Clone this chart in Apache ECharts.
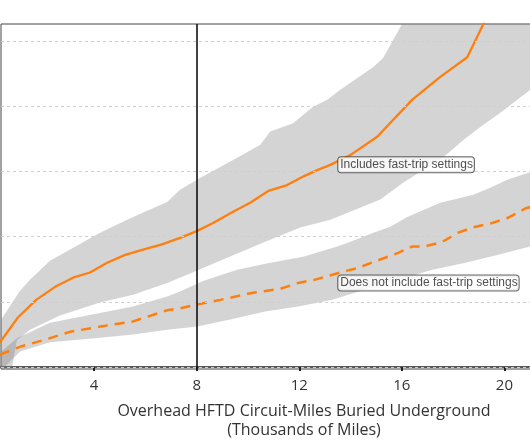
<!DOCTYPE html>
<html>
<head>
<meta charset="utf-8">
<script src="https://cdn.jsdelivr.net/npm/echarts@6/dist/echarts.min.js"></script>
<style>
html,body{margin:0;padding:0;background:#fff;}
#chart{width:530px;height:442px;}
</style>
</head>
<body>
<div id="chart"></div>
<script>
// ---- data ----
const xTicks = [4, 8, 12, 16, 20];
const gridValues = [0, 1, 2, 3, 4, 5];
const refLineX = [8];

// Includes fast-trip settings (solid line)
const includesX = [0.33,1.03,1.74,2.48,3.18,3.84,4.51,5.21,5.91,6.65,7.35,7.98,8.64,9.42,10.09,10.79,11.53,12.15,12.70,13.21,13.99,15.04,16.41,17.50,18.55,19.18,19.65];
const includesY = [0.38,0.76,1.03,1.23,1.37,1.45,1.60,1.72,1.80,1.88,1.98,2.08,2.21,2.38,2.52,2.70,2.79,2.92,3.02,3.10,3.25,3.53,4.10,4.45,4.75,5.26,5.78];
const includesUpperX = [0.33,1.11,1.50,2.28,4.23,5.52,6.85,7.35,8.13,9.58,10.48,10.87,11.76,12.54,13.09,13.60,14.89,15.27,15.94,16.72,24];
const includesUpperY = [0.70,1.17,1.34,1.63,2.06,2.30,2.53,2.72,2.90,3.21,3.41,3.61,3.74,3.99,4.10,4.25,4.60,4.74,5.21,5.93,9.0];
const includesLowerX = [0.33,0.80,0.99,1.50,2.67,4.23,5.52,6.85,8.02,9.58,10.67,12.04,13.21,14.49,15.16,16.06,16.84,17.50,18.40,19.06,19.84,21.01,22.18,24];
const includesLowerY = [-0.50,-0.01,0.41,0.57,0.79,0.99,1.11,1.29,1.48,1.74,1.92,2.14,2.26,2.46,2.57,2.83,3.02,3.18,3.48,3.68,3.90,4.25,4.63,5.2];

// Does not include fast-trip settings (dashed line)
const excludesX = [0.33,1.11,2.09,3.06,4.23,5.52,6.85,7.35,8.02,8.92,10.20,11.26,11.96,12.62,13.68,14.30,14.96,15.86,16.41,16.91,17.58,18.20,18.75,19.53,20.15,20.81,21.40];
const excludesY = [0.19,0.31,0.42,0.54,0.62,0.70,0.87,0.90,0.96,1.03,1.14,1.20,1.29,1.34,1.46,1.52,1.62,1.75,1.85,1.85,1.92,2.06,2.14,2.21,2.29,2.43,2.50];
const excludesUpperX = [0.33,0.99,2.28,4.23,5.52,6.85,7.35,8.25,9.58,10.87,12.15,13.48,13.99,14.89,15.55,16.21,17.50,18.79,19.45,20.11,21.01,22.18,24];
const excludesUpperY = [0.22,0.44,0.68,0.83,0.93,1.08,1.16,1.32,1.49,1.60,1.69,1.85,1.92,2.06,2.15,2.30,2.52,2.64,2.75,2.87,2.99,3.18,3.5];
const excludesLowerX = [0.33,1.11,2.28,4.23,5.52,6.85,8.02,9.31,10.67,11.96,13.29,14.57,15.86,17.19,18.48,19.76,21.01,22.18,24];
const excludesLowerY = [-0.07,0.24,0.38,0.45,0.50,0.57,0.62,0.73,0.85,0.93,1.03,1.19,1.34,1.49,1.60,1.72,1.85,1.95,2.1];

// annotations
const annotationText = ['Includes fast-trip settings', 'Does not include fast-trip settings'];
const annotationX = [13.52, 13.52];
const annotationY = [3.10, 1.29];

// ---- chart ----
const pairs = (xs, ys) => xs.map((x, i) => [x, ys[i]]);
const ORANGE = '#ff7f0e';
const BAND = 'rgba(128,128,128,0.34)';

function bandSeries(upX, upY, loX, loY) {
  return {
    type: 'custom', z: 2, silent: true,
    data: [[upX[0], upY[0]]],
    renderItem: function (params, api) {
      const pts = [];
      for (let i = 0; i < upX.length; i++) pts.push(api.coord([upX[i], upY[i]]));
      for (let i = loX.length - 1; i >= 0; i--) pts.push(api.coord([loX[i], loY[i]]));
      const cs = params.coordSys;
      return {
        type: 'polygon',
        shape: { points: pts },
        style: { fill: BAND },
        clipPath: { type: 'rect', shape: { x: cs.x, y: cs.y, width: cs.width, height: cs.height } }
      };
    }
  };
}

const chart = echarts.init(document.getElementById('chart'), null, { renderer: 'canvas' });
chart.setOption({
  animation: false,
  backgroundColor: '#fff',
  grid: { left: 1, right: -77, top: 24, bottom: 73, show: true, borderColor: '#444', borderWidth: 1, backgroundColor: 'transparent', outerBoundsMode: 'none', containLabel: false },
  xAxis: {
    type: 'value', min: 0.37, max: 24,
    axisLine: { show: true, lineStyle: { color: '#222', width: 1.5 } },
    axisTick: { show: true, customValues: xTicks, length: 4, lineStyle: { color: '#222', width: 2 } },
    axisLabel: { customValues: xTicks, fontSize: 15, color: '#333', margin: 9, fontFamily: 'Open Sans' },
    splitLine: { show: false },
    name: 'Overhead HFTD Circuit-Miles Buried Underground\n(Thousands of Miles)',
    nameLocation: 'middle', nameGap: 33,
    nameTextStyle: { fontSize: 16, lineHeight: 19, color: '#333', fontFamily: 'Open Sans' }
  },
  yAxis: {
    type: 'value', min: -0.03, max: 5.26,
    axisLine: { show: false }, axisTick: { show: false }, axisLabel: { show: false }, splitLine: { show: false }
  },
  series: [
    {
      type: 'line', z: 1, silent: true, showSymbol: false,
      data: gridValues.map(v => [0.37, v]),
      lineStyle: { width: 0, opacity: 0 },
      markLine: {
        silent: true, symbol: 'none', label: { show: false },
        lineStyle: { color: '#cfcfcf', width: 1, type: [3, 3] },
        data: gridValues.map(v => ({ yAxis: v }))
      }
    },
    bandSeries(includesUpperX, includesUpperY, includesLowerX, includesLowerY),
    bandSeries(excludesUpperX, excludesUpperY, excludesLowerX, excludesLowerY),
    {
      name: 'Includes fast-trip settings', type: 'line', z: 3, silent: true, showSymbol: false,
      data: pairs(includesX, includesY),
      lineStyle: { color: ORANGE, width: 2.3 }
    },
    {
      name: 'Does not include fast-trip settings', type: 'line', z: 3, silent: true, showSymbol: false,
      data: pairs(excludesX, excludesY),
      lineStyle: { color: ORANGE, width: 2.5, type: [10, 7] }
    },
    {
      type: 'line', z: 5, silent: true, showSymbol: false,
      data: [[refLineX[0], 0]],
      lineStyle: { width: 0, opacity: 0 },
      markLine: {
        silent: true, symbol: 'none', label: { show: false },
        lineStyle: { color: '#111', width: 1.6, type: 'solid' },
        data: refLineX.map(v => ({ xAxis: v }))
      }
    },
    {
      type: 'scatter', z: 10, silent: true, symbolSize: 0,
      data: annotationX.map((x, i) => [x, annotationY[i], annotationText[i]]),
      label: {
        show: true, position: 'right', distance: 0,
        formatter: p => p.data[2],
        backgroundColor: '#fff', borderColor: '#444', borderWidth: 1, borderRadius: 3,
        padding: [2, 1, 1, 2], fontSize: 12, fontFamily: 'Liberation Sans', color: '#222'
      }
    }
  ]
});
</script>
</body>
</html>
